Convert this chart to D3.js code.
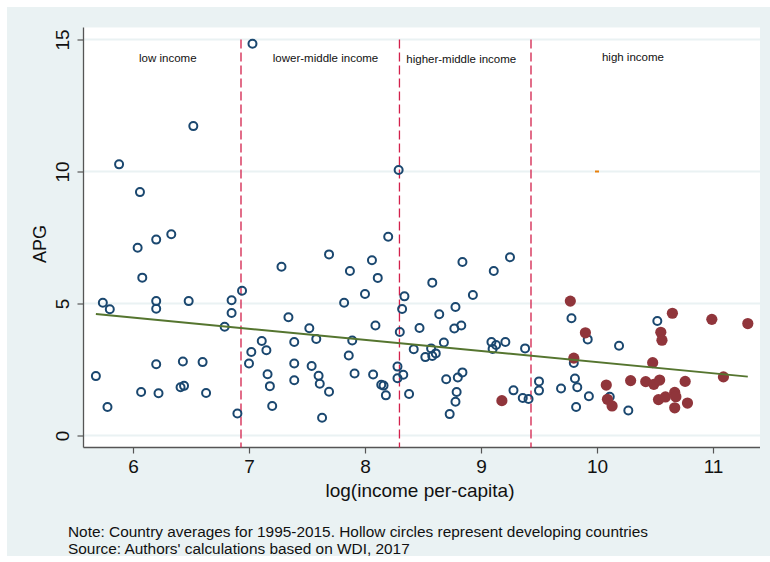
<!DOCTYPE html>
<html>
<head>
<meta charset="utf-8">
<script src="https://cdn.jsdelivr.net/npm/d3@7/dist/d3.min.js"></script>
<style>
  body { margin: 0; background: #fff; }
  svg { display: block; }
  text { font-family: "Liberation Sans", Arial, sans-serif; fill: #111; }
</style>
</head>
<body>
<svg id="chart" width="770" height="562"></svg>
<script>
// developing countries (hollow circles): log income per-capita, APG
var devX = [7.03, 6.52, 5.88, 6.06, 8.29, 6.04, 6.20, 6.33, 6.08, 5.74, 5.80, 6.20, 6.20, 6.48, 6.85,
    6.94, 6.85, 6.79, 5.68, 5.78, 6.20, 6.43, 6.60, 6.07, 6.22, 6.41, 6.44, 6.63, 6.90, 7.02,
    7.00, 7.28, 7.34, 7.52, 7.58, 7.11, 7.15, 7.39, 7.39, 7.39, 7.16, 7.18, 7.20, 7.54, 7.60,
    7.61, 7.69, 7.63, 7.69, 7.87, 8.06, 8.11, 8.20, 8.00, 7.82, 8.09, 7.89, 7.86, 7.91, 8.07,
    8.14, 8.16, 8.18, 8.34, 8.32, 8.30, 8.28, 8.33, 8.28, 8.38, 8.84, 9.11, 9.25, 8.58, 8.93,
    8.78, 8.64, 8.77, 8.83, 8.47, 8.42, 8.68, 8.57, 8.52, 8.58, 8.61, 8.70, 8.80, 8.84, 8.79,
    8.78, 8.73, 9.09, 9.13, 9.10, 9.21, 9.38, 9.28, 9.36, 9.41, 9.50, 9.50, 9.78, 9.92, 10.19,
    9.80, 9.81, 9.83, 9.69, 9.93, 9.82, 10.11, 10.27, 10.52]
var devY = [14.84, 11.72, 10.27, 9.22, 10.06, 7.11, 7.42, 7.62, 5.98, 5.03, 4.78, 5.09, 4.80, 5.09, 5.12,
    5.48, 4.64, 4.12, 2.25, 1.08, 2.70, 2.80, 2.78, 1.65, 1.60, 1.83, 1.88, 1.61, 0.83, 3.16,
    2.73, 6.39, 4.48, 4.06, 3.66, 3.58, 3.23, 3.54, 2.73, 2.09, 2.32, 1.87, 1.12, 2.63, 2.26,
    1.96, 1.66, 0.67, 6.86, 6.23, 6.64, 5.97, 7.53, 5.36, 5.03, 4.17, 3.60, 3.03, 2.35, 2.31,
    1.92, 1.89, 1.52, 5.27, 4.79, 3.92, 2.61, 2.30, 2.17, 1.57, 6.57, 6.23, 6.75, 5.79, 5.32,
    4.87, 4.59, 4.05, 4.17, 4.07, 3.27, 3.52, 3.30, 2.97, 3.01, 3.11, 2.13, 2.20, 2.39, 1.65,
    1.28, 0.81, 3.54, 3.43, 3.28, 3.54, 3.30, 1.71, 1.42, 1.38, 2.05, 1.70, 4.44, 3.64, 3.40,
    2.75, 2.16, 1.83, 1.78, 1.49, 1.08, 1.47, 0.95, 4.34]

// high income countries (filled circles)
var highX = [9.18, 9.77, 9.90, 9.80, 10.08, 10.09, 10.13, 10.29, 10.65, 10.55, 10.56, 10.48, 10.42,
    10.49, 10.54, 10.53, 10.59, 10.67, 10.68, 10.67, 10.76, 10.78, 10.99, 11.09, 11.30]
var highY = [1.32, 5.09, 3.89, 2.93, 1.91, 1.37, 1.12, 2.08, 4.63, 3.91, 3.61, 2.76, 2.04,
    1.94, 2.10, 1.36, 1.46, 1.63, 1.47, 1.05, 2.05, 1.23, 4.40, 2.22, 4.24]

// linear fit end points
var fitX = [5.68, 11.30]
var fitY = [4.60, 2.23]

// income group thresholds and labels
var thresholds = [6.931, 8.297, 9.431]
var groupNames = ["low income", "lower-middle income", "higher-middle income", "high income"]
var groupX = [6.30, 7.66, 8.83, 10.31]
var groupY = [14.15, 14.15, 14.1, 14.2]

var xTicks = [6, 7, 8, 9, 10, 11]
var yTicks = [0, 5, 10, 15]

var svg = d3.select("#chart");

var plot = { left: 83.5, right: 760, top: 27.5, bottom: 447.5 };

var x = d3.scaleLinear().domain([6, 11]).range([133, 713]),
    y = d3.scaleLinear().domain([0, 15]).range([435.5, 39.5]);

// graph region and plot region
svg.append("rect")
    .attr("x", 7).attr("y", 7)
    .attr("width", 763).attr("height", 549)
    .attr("fill", "#eaf2f3");

svg.append("rect")
    .attr("x", plot.left).attr("y", plot.top)
    .attr("width", plot.right - plot.left).attr("height", plot.bottom - plot.top)
    .attr("fill", "#fff");

// grid lines
svg.selectAll(".grid")
    .data(yTicks)
    .enter().append("line")
    .attr("class", "grid")
    .attr("x1", plot.left).attr("x2", plot.right)
    .attr("y1", function(d) { return y(d); })
    .attr("y2", function(d) { return y(d); })
    .attr("stroke", "#eaf2f3")
    .attr("stroke-width", 2);

// axes
var gx = svg.append("g")
    .attr("transform", "translate(0," + plot.bottom + ")")
    .call(d3.axisBottom(x).tickValues(xTicks).tickFormat(d3.format("d")).tickSize(6).tickPadding(6));
gx.select(".domain").remove();

var gy = svg.append("g")
    .attr("transform", "translate(" + plot.left + ",0)")
    .call(d3.axisLeft(y).tickValues(yTicks).tickSize(6));
gy.select(".domain").remove();

svg.selectAll(".tick line").attr("stroke", "#555").attr("stroke-width", 1.2);

gx.selectAll(".tick text")
    .attr("font-size", 19)
    .attr("fill", "#111")
    .attr("font-family", "Liberation Sans, Arial, sans-serif");

gy.selectAll(".tick text").remove();
gy.selectAll(".tick").append("text")
    .attr("transform", "translate(" + (62.5 - plot.left) + ",0) rotate(-90)")
    .attr("text-anchor", "middle")
    .attr("dy", "0.36em")
    .attr("font-size", 19)
    .text(function(d) { return d; });

svg.append("line")
    .attr("x1", plot.left).attr("x2", plot.left)
    .attr("y1", plot.top).attr("y2", plot.bottom)
    .attr("stroke", "#555").attr("stroke-width", 1.3);
svg.append("line")
    .attr("x1", plot.left).attr("x2", plot.right)
    .attr("y1", plot.bottom).attr("y2", plot.bottom)
    .attr("stroke", "#555").attr("stroke-width", 1.3);

// axis titles
svg.append("text")
    .attr("x", 420).attr("y", 497)
    .attr("text-anchor", "middle")
    .attr("font-size", 19)
    .text("log(income per-capita)");

svg.append("text")
    .attr("transform", "translate(40,244) rotate(-90)")
    .attr("text-anchor", "middle")
    .attr("dy", "0.36em")
    .attr("font-size", 18)
    .text("APG");

// income group thresholds
svg.selectAll(".thresh")
    .data(thresholds)
    .enter().append("line")
    .attr("class", "thresh")
    .attr("x1", function(d) { return x(d); })
    .attr("x2", function(d) { return x(d); })
    .attr("y1", y(15)).attr("y2", plot.bottom)
    .attr("stroke", "#d3204b")
    .attr("stroke-width", 1.3)
    .attr("stroke-dasharray", "9,4");

svg.selectAll(".group")
    .data(groupNames)
    .enter().append("text")
    .attr("class", "group")
    .attr("x", function(d, i) { return x(groupX[i]); })
    .attr("y", function(d, i) { return y(groupY[i]); })
    .attr("text-anchor", "middle")
    .attr("font-size", 11.5)
    .attr("fill", "#222")
    .text(function(d) { return d; });

// small orange mark
svg.append("rect")
    .attr("x", x(10) - 2).attr("y", y(10) - 1)
    .attr("width", 4).attr("height", 2)
    .attr("fill", "#e8800c");

// hollow markers
svg.selectAll(".dev")
    .data(devX)
    .enter().append("circle")
    .attr("class", "dev")
    .attr("cx", function(d) { return x(d); })
    .attr("cy", function(d, i) { return y(devY[i]); })
    .attr("r", 4)
    .attr("fill", "none")
    .attr("stroke", "#1a476f")
    .attr("stroke-width", 2);

// filled markers
svg.selectAll(".high")
    .data(highX)
    .enter().append("circle")
    .attr("class", "high")
    .attr("cx", function(d) { return x(d); })
    .attr("cy", function(d, i) { return y(highY[i]); })
    .attr("r", 5.6)
    .attr("fill", "#90353b");

// fitted line
svg.append("line")
    .attr("x1", x(fitX[0])).attr("y1", y(fitY[0]))
    .attr("x2", x(fitX[1])).attr("y2", y(fitY[1]))
    .attr("stroke", "#55752f")
    .attr("stroke-width", 2);

// notes
svg.append("text")
    .attr("x", 68).attr("y", 537)
    .attr("font-size", 15.4)
    .text("Note: Country averages for 1995-2015. Hollow circles represent developing countries");
svg.append("text")
    .attr("x", 68).attr("y", 554)
    .attr("font-size", 15.4)
    .text("Source: Authors' calculations based on WDI, 2017");
</script>
</body>
</html>
